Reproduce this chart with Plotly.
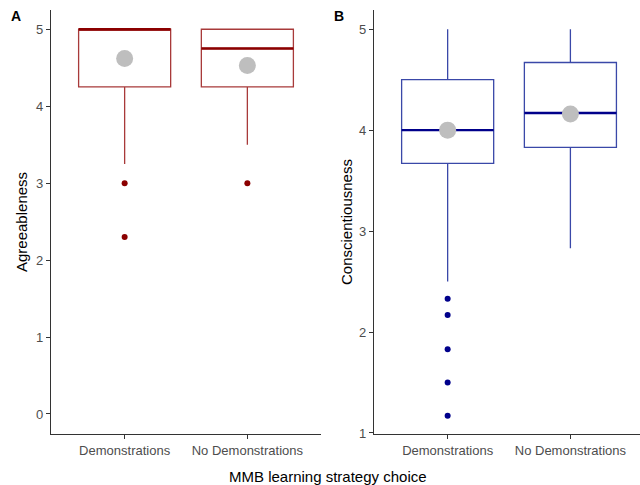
import plotly.graph_objects as go

categories = ["Demonstrations", "No Demonstrations"]

# Panel A: Agreeableness
agree_q1 = [4.25, 4.25]
agree_median = [5.0, 4.75]
agree_q3 = [5.0, 5.0]
agree_lower = [3.25, 3.5]
agree_upper = [5.0, 5.0]
agree_mean = [4.62, 4.53]
agree_out_cat = ["Demonstrations", "Demonstrations", "No Demonstrations"]
agree_out_val = [3.0, 2.3, 3.0]

# Panel B: Conscientiousness
consc_q1 = [3.67, 3.83]
consc_median = [4.0, 4.17]
consc_q3 = [4.5, 4.67]
consc_lower = [2.5, 2.83]
consc_upper = [5.0, 5.0]
consc_mean = [4.0, 4.16]
consc_out_cat = ["Demonstrations"] * 5
consc_out_val = [2.33, 2.17, 1.83, 1.5, 1.17]

W, H = 640, 485
FONT = "Liberation Sans, Arial, sans-serif"

RED_LINE = "#A83A3A"
RED_DARK = "#8B0000"
BLUE_LINE = "#3A48A8"
BLUE_DARK = "#00008B"
MEAN_COL = "#BEBEBE"

fig = go.Figure()


def add_panel(xa, ya, q1, med, q3, lo, up, mean, oc, ov, line_col, dark_col):
    fig.add_trace(go.Box(
        x=categories, q1=q1, median=med, q3=q3, lowerfence=lo, upperfence=up,
        width=0.75, whiskerwidth=0, fillcolor="white",
        line=dict(color=line_col, width=1.3), boxpoints=False,
        xaxis=xa, yaxis=ya, showlegend=False, hoverinfo="skip"))
    # darker, thicker median line
    fig.add_trace(go.Box(
        x=categories, q1=med, median=med, q3=med, lowerfence=med, upperfence=med,
        width=0.75, whiskerwidth=0, fillcolor="rgba(0,0,0,0)",
        line=dict(color=dark_col, width=2.4), boxpoints=False,
        xaxis=xa, yaxis=ya, showlegend=False, hoverinfo="skip"))
    fig.add_trace(go.Scatter(
        x=oc, y=ov, mode="markers",
        marker=dict(color=dark_col, size=6),
        xaxis=xa, yaxis=ya, showlegend=False, hoverinfo="skip"))
    fig.add_trace(go.Scatter(
        x=categories, y=mean, mode="markers",
        marker=dict(color=MEAN_COL, size=17),
        xaxis=xa, yaxis=ya, showlegend=False, hoverinfo="skip"))


add_panel("x", "y", agree_q1, agree_median, agree_q3, agree_lower, agree_upper,
          agree_mean, agree_out_cat, agree_out_val, RED_LINE, RED_DARK)
add_panel("x2", "y2", consc_q1, consc_median, consc_q3, consc_lower, consc_upper,
          consc_mean, consc_out_cat, consc_out_val, BLUE_LINE, BLUE_DARK)

ydom = [1 - 434 / H, 1 - 10 / H]

axis_common = dict(
    showline=True, linecolor="#333333", linewidth=1.2,
    ticks="outside", ticklen=4, tickwidth=1.1, tickcolor="#333333",
    showgrid=False, zeroline=False, automargin=False,
    tickfont=dict(family=FONT, size=13, color="#4D4D4D"),
)

fig.update_layout(
    template="none",
    width=W, height=H,
    margin=dict(l=0, r=0, t=0, b=0, pad=0, autoexpand=False),
    paper_bgcolor="white", plot_bgcolor="white",
    boxmode="overlay",
    xaxis=dict(domain=[51 / W, 321 / W], anchor="y", type="category",
               categoryorder="array", categoryarray=categories,
               range=[-0.6, 1.6], **axis_common),
    yaxis=dict(domain=ydom, anchor="x", range=[-0.26, 5.25],
               tickvals=[0, 1, 2, 3, 4, 5], **axis_common),
    xaxis2=dict(domain=[374 / W, 1.0], anchor="y2", type="category",
                categoryorder="array", categoryarray=categories,
                range=[-0.6, 1.567], **axis_common),
    yaxis2=dict(domain=ydom, anchor="x2", range=[0.99, 5.19],
                tickvals=[1, 2, 3, 4, 5], **axis_common),
    annotations=[
        dict(text="Agreeableness", x=22 / W, y=1 - 222 / H, xref="paper", yref="paper",
             textangle=-90, showarrow=False, xanchor="center", yanchor="middle",
             font=dict(family=FONT, size=15, color="black")),
        dict(text="Conscientiousness", x=347 / W, y=1 - 222 / H, xref="paper", yref="paper",
             textangle=-90, showarrow=False, xanchor="center", yanchor="middle",
             font=dict(family=FONT, size=15, color="black")),
        dict(text="MMB learning strategy choice", x=328 / W, y=1 - 476 / H,
             xref="paper", yref="paper", showarrow=False,
             xanchor="center", yanchor="middle",
             font=dict(family=FONT, size=15, color="black")),
        dict(text="<b>A</b>", x=16 / W, y=1 - 16 / H, xref="paper", yref="paper",
             showarrow=False, xanchor="center", yanchor="middle",
             font=dict(family=FONT, size=14, color="black")),
        dict(text="<b>B</b>", x=339 / W, y=1 - 16 / H, xref="paper", yref="paper",
             showarrow=False, xanchor="center", yanchor="middle",
             font=dict(family=FONT, size=14, color="black")),
    ],
)

fig.write_html(
    "out.html",
    config={"displayModeBar": False},
    post_script="document.body.style.margin='0';document.body.style.overflow='hidden';"
                "document.documentElement.style.overflow='hidden';",
)
